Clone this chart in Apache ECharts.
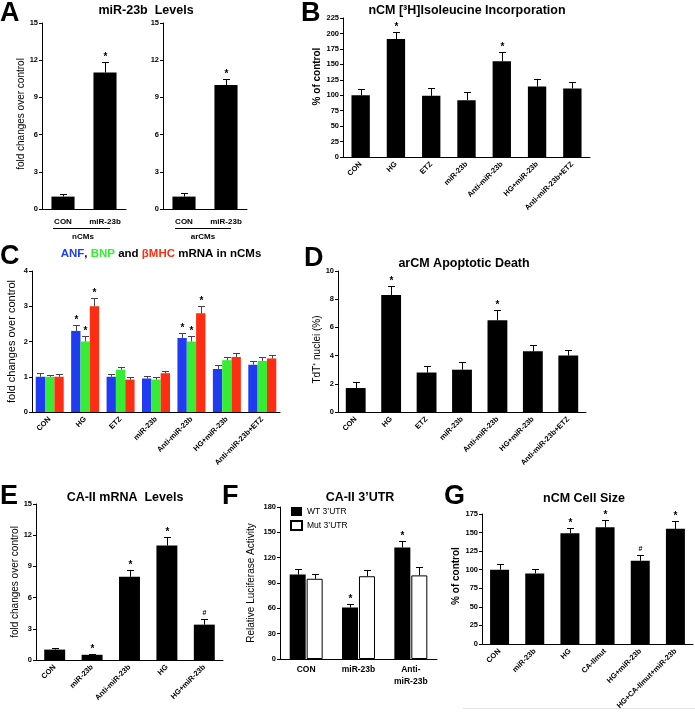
<!DOCTYPE html>
<html>
<head>
<meta charset="utf-8">
<script src="https://cdn.jsdelivr.net/npm/echarts@6/dist/echarts.min.js"></script>
<style>
  html, body { margin: 0; padding: 0; background: #fff; }
  #fig { width: 695px; height: 717px; }
</style>
</head>
<body>
<div id="fig"></div>
<script>
// panel A - miR-23b levels
var aCats = ['CON', 'miR-23b'];
var aNcm = [1.0, 11.0];
var aNcmErr = [0.2, 0.85];
var aArcm = [1.0, 10.0];
var aArcmErr = [0.28, 0.5];
var aMarks = ['', '*'];

// panel B - isoleucine incorporation
var bCats = ['CON', 'HG', 'ETZ', 'miR-23b', 'Anti-miR-23b', 'HG+miR-23b', 'Anti-miR-23b+ETZ'];
var bVals = [100, 191, 99, 92, 155, 114, 111];
var bErr = [10, 12, 12, 14, 15, 12, 11];
var bMarks = ['', '*', '', '', '*', '', ''];

// panel C - ANF / BNP / bMHC
var cCats = bCats;
var cAnf = [1.0, 2.3, 1.0, 0.95, 2.1, 1.22, 1.34];
var cAnfErr = [0.12, 0.18, 0.09, 0.08, 0.15, 0.1, 0.12];
var cBnp = [1.0, 2.0, 1.2, 0.92, 2.0, 1.47, 1.45];
var cBnpErr = [0.06, 0.15, 0.08, 0.08, 0.15, 0.1, 0.11];
var cMhc = [1.0, 3.0, 0.92, 1.1, 2.8, 1.56, 1.52];
var cMhcErr = [0.09, 0.23, 0.08, 0.07, 0.2, 0.12, 0.11];
var cMarks = ['', '*', '', '', '*', '', ''];

// panel D - apoptotic death
var dCats = bCats;
var dVals = [1.7, 8.3, 2.8, 3.0, 6.5, 4.3, 4.0];
var dErr = [0.4, 0.62, 0.45, 0.55, 0.75, 0.45, 0.4];
var dMarks = ['', '*', '', '', '*', '', ''];

// panel E - CA-II mRNA
var eCats = ['CON', 'miR-23b', 'Anti-miR-23b', 'HG', 'HG+miR-23b'];
var eVals = [1.0, 0.5, 8.0, 11.0, 3.4];
var eErr = [0.15, 0.1, 0.65, 0.8, 0.5];
var eMarks = ['', '*', '*', '*', '#'];

// panel F - luciferase
var fCats = ['CON', 'miR-23b', 'Anti-\nmiR-23b'];
var fWt = [100, 61, 132];
var fWtErr = [7, 4, 8];
var fMut = [95, 98, 99];
var fMutErr = [6, 7, 10];
var fMarks = ['', '*', '*'];

// panel G - cell size
var gCats = ['CON', 'miR-23b', 'HG', 'CA-IImut', 'HG+miR-23b', 'HG+CA-IImut+miR-23b'];
var gVals = [100, 95, 149, 157, 112, 155];
var gErr = [8, 6, 7, 10, 8, 11];
var gMarks = ['', '', '*', '*', '#', '*'];

var FONT = 'Liberation Sans, Arial, sans-serif';
var BLUE = '#1f3cf2', GREEN = '#33ee33', RED = '#ff2d12';

function xAx(i, cats, rot, size, margin) {
    return {
        type: 'category', gridIndex: i, data: cats,
        axisLine: {lineStyle: {color: '#000', width: 1}},
        axisTick: {length: 3, lineStyle: {color: '#000'}},
        axisLabel: {
            color: '#000', fontSize: size, fontWeight: 'bold', fontFamily: FONT,
            rotate: rot, margin: margin, interval: 0, lineHeight: size + 3
        }
    };
}

// pad shifts the rotated axis name along the axis (positive = up)
function yAx(i, max, step, name, gap, nsize, nbold, pad) {
    var p = pad || 0;
    return {
        type: 'value', gridIndex: i, min: 0, max: max, interval: step,
        axisLine: {show: true, lineStyle: {color: '#000', width: 1}},
        axisTick: {show: true, length: 3, lineStyle: {color: '#000'}},
        splitLine: {show: false},
        axisLabel: {color: '#000', fontSize: 7.5, fontWeight: 'bold', fontFamily: FONT, margin: 4},
        name: name, nameLocation: 'middle', nameGap: gap,
        nameTextStyle: {
            color: '#000', fontSize: nsize, fontFamily: FONT, fontWeight: nbold ? 'bold' : 'normal',
            padding: p > 0 ? [0, 0, 0, 2 * p] : [0, -2 * p, 0, 0]
        }
    };
}

function bars(i, vals, color, gap, name, extra) {
    var s = {
        type: 'bar', name: name, xAxisIndex: i, yAxisIndex: i, data: vals,
        itemStyle: {color: color}, barCategoryGap: gap, barGap: '0%', silent: true
    };
    if (extra) for (var k in extra) s[k] = extra[k];
    return s;
}

// error bars (upper only) + significance marks, off = offset as fraction of band
function errs(i, vals, err, marks, off, color) {
    return {
        type: 'custom', xAxisIndex: i, yAxisIndex: i, z: 5, silent: true,
        data: vals.map(function(v, k) { return [k, v, err[k]]; }),
        encode: {x: 0, y: 1},
        renderItem: function(params, api) {
            var k = api.value(0), v = api.value(1), e = api.value(2);
            var band = api.size([1, 0])[0];
            var p0 = api.coord([k, v]);
            var p1 = api.coord([k, v + e]);
            var x = Math.round(p0[0] + off * band) + 0.5;
            var yt = Math.round(p1[1]) + 0.5;
            var ch = [
                {type: 'line', shape: {x1: x, y1: p0[1], x2: x, y2: yt}, style: {stroke: color, lineWidth: 1}},
                {type: 'line', shape: {x1: x - 3.5, y1: yt, x2: x + 3.5, y2: yt}, style: {stroke: color, lineWidth: 1}}
            ];
            var m = marks ? marks[params.dataIndex] : '';
            if (m) {
                ch.push({
                    type: 'text', x: x, y: yt - (m === '*' ? 0 : 3),
                    style: {
                        text: m, fill: '#000', align: 'center', verticalAlign: 'bottom',
                        font: 'bold ' + (m === '*' ? 10 : 7) + 'px ' + FONT
                    }
                });
            }
            return {type: 'group', children: ch};
        }
    };
}

// grouped bar geometry
var cGapFrac = 0.21;
var cW = (1 - cGapFrac) / 3;
var fGapFrac = 0.37, fBarGap = 0.06;
var fW = (1 - fGapFrac) / (2 + fBarGap);
var fOff = fW * (1 + fBarGap) / 2;

function letter(t, l, top) {
    return {text: t, left: l, top: top, padding: 0,
        textStyle: {fontSize: 27, fontWeight: 'bold', fontFamily: FONT, color: '#000'}};
}
function ttl(t, cx, top, size) {
    return {text: t, left: cx, top: top, textAlign: 'center', padding: 0,
        textStyle: {fontSize: size, fontWeight: 'bold', fontFamily: FONT, color: '#000',
            rich: {
                b: {color: BLUE, fontSize: size, fontWeight: 'bold', fontFamily: FONT},
                g: {color: GREEN, fontSize: size, fontWeight: 'bold', fontFamily: FONT},
                r: {color: RED, fontSize: size, fontWeight: 'bold', fontFamily: FONT},
                k: {color: '#000', fontSize: size, fontWeight: 'bold', fontFamily: FONT}
            }}};
}

var option = {
    backgroundColor: '#fff',
    animation: false,
    title: [
        letter('A', 0, 0), letter('B', 301, 0), letter('C', 0, 243),
        letter('D', 304, 245), letter('E', 0, 483), letter('F', 222, 483), letter('G', 444, 483),
        ttl('miR-23b  Levels', 146, 4, 12.5),
        ttl('nCM [³H]Isoleucine Incorporation', 467, 4, 12.5),
        ttl('{b|ANF}{k|, }{g|BNP}{k| and }{r|βMHC}{k| mRNA in nCMs}', 161, 248, 11.5),
        ttl('arCM Apoptotic Death', 464, 257, 12.5),
        ttl('CA-II mRNA  Levels', 125, 491, 12.5),
        ttl('CA-II 3’UTR', 360, 491, 12.5),
        ttl('nCM Cell Size', 584, 492, 12.5)
    ],
    legend: {
        data: ['WT 3’UTR', 'Mut 3’UTR'], orient: 'vertical', left: 290, top: 507,
        icon: 'rect', itemWidth: 11, itemHeight: 9, itemGap: 4, selectedMode: false, padding: 0,
        textStyle: {color: '#000', fontSize: 8.5, fontFamily: FONT}
    },
    grid: [
        {left: 42, top: 23, width: 84, height: 186},
        {left: 163, top: 23, width: 84, height: 186},
        {left: 343, top: 18, width: 247, height: 139},
        {left: 32, top: 271, width: 248, height: 141},
        {left: 338, top: 271, width: 248, height: 141},
        {left: 36, top: 504, width: 187, height: 156},
        {left: 280, top: 507, width: 157, height: 152},
        {left: 482, top: 514, width: 211, height: 130}
    ],
    xAxis: [
        xAx(0, aCats, 0, 8, 7),
        xAx(1, aCats, 0, 8, 7),
        xAx(2, bCats, 45, 7.5, 6),
        xAx(3, cCats, 45, 7.5, 6),
        xAx(4, dCats, 45, 7.5, 6),
        xAx(5, eCats, 45, 7.5, 6),
        xAx(6, fCats, 0, 8.5, 5),
        xAx(7, gCats, 45, 7.5, 6)
    ],
    yAxis: [
        yAx(0, 15, 3, 'fold changes over control', 15, 10, false, 2),
        yAx(1, 15, 3, '', 15, 10, false),
        yAx(2, 225, 25, '% of control', 21, 10, true, 11),
        yAx(3, 4, 1, 'fold changes over control', 15, 11, false),
        yAx(4, 10, 2, 'TdT⁺ nuclei (%)', 13, 10, false, -8),
        yAx(5, 15, 3, 'fold changes over control', 16, 10, false),
        yAx(6, 180, 30, 'Relative Luciferase Activity', 24, 10, false),
        yAx(7, 175, 25, '% of control', 19, 10, true, 3)
    ],
    series: [
        bars(0, aNcm, '#000', '45%'),
        errs(0, aNcm, aNcmErr, aMarks, 0, '#000'),
        bars(1, aArcm, '#000', '45%'),
        errs(1, aArcm, aArcmErr, aMarks, 0, '#000'),
        bars(2, bVals, '#000', '48%'),
        errs(2, bVals, bErr, bMarks, 0, '#000'),
        bars(3, cAnf, BLUE, '21%'),
        bars(3, cBnp, GREEN, '21%'),
        bars(3, cMhc, RED, '21%'),
        errs(3, cAnf, cAnfErr, cMarks, -cW, '#444'),
        errs(3, cBnp, cBnpErr, cMarks, 0, '#444'),
        errs(3, cMhc, cMhcErr, cMarks, cW, '#444'),
        bars(4, dVals, '#000', '44%'),
        errs(4, dVals, dErr, dMarks, 0, '#000'),
        bars(5, eVals, '#000', '44%'),
        errs(5, eVals, eErr, eMarks, 0, '#000'),
        bars(6, fWt, '#000', '37%', 'WT 3’UTR', {barGap: '6%'}),
        bars(6, fMut, '#fff', '37%', 'Mut 3’UTR',
            {barGap: '6%', itemStyle: {color: '#fff', borderColor: '#000', borderWidth: 1}}),
        errs(6, fWt, fWtErr, fMarks, -fOff, '#000'),
        errs(6, fMut, fMutErr, null, fOff, '#000'),
        bars(7, gVals, '#000', '46%'),
        errs(7, gVals, gErr, gMarks, 0, '#000')
    ],
    graphic: [
        {type: 'line', shape: {x1: 53, y1: 228.5, x2: 110, y2: 228.5}, style: {stroke: '#000', lineWidth: 1}},
        {type: 'line', shape: {x1: 175, y1: 228.5, x2: 231, y2: 228.5}, style: {stroke: '#000', lineWidth: 1}},
        {type: 'text', x: 83, y: 237, style: {text: 'nCMs', align: 'center', verticalAlign: 'middle',
            font: 'bold 8px ' + FONT, fill: '#000'}},
        {type: 'text', x: 203, y: 237, style: {text: 'arCMs', align: 'center', verticalAlign: 'middle',
            font: 'bold 8px ' + FONT, fill: '#000'}},
        {type: 'line', shape: {x1: 463, y1: 708.5, x2: 695, y2: 708.5}, style: {stroke: '#e2e2e2', lineWidth: 1}}
    ]
};

var chart = echarts.init(document.getElementById('fig'));
chart.setOption(option);
</script>
</body>
</html>
